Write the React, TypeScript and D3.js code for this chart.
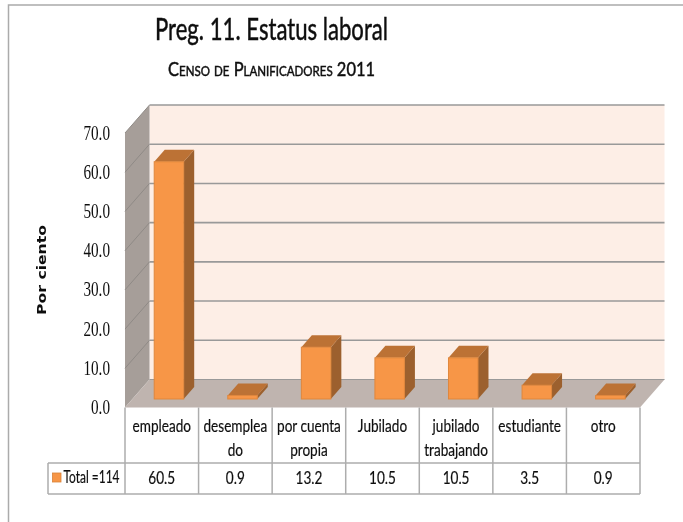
import React from "react";
import * as d3 from "d3";

const categories = ["empleado", "desemplea|do", "por cuenta|propia", "Jubilado", "jubilado|trabajando", "estudiante", "otro"];
const values = [60.5, 0.9, 13.2, 10.5, 10.5, 3.5, 0.9];
const valueLabels = ["60.5", "0.9", "13.2", "10.5", "10.5", "3.5", "0.9"];
const ticks = [0, 10, 20, 30, 40, 50, 60, 70];
const seriesName = "Total =114";
const yAxisTitle = "Por ciento";

const W = 683, H = 522;
const x0 = 125, x1 = 640, floorY = 407.5;
const dx = 24.5, dy = 28;
const barDx = 10.5, barDy = 12;
const SANS = "Lato,'Open Sans',sans-serif";

export default function App() {
  const x = d3.scaleBand<number>().domain(d3.range(categories.length)).range([x0, x1]);
  const y = d3.scaleLinear().domain([0, 70]).range([floorY, floorY - 274.5]);
  const pts = (a: number[][]) => a.map(p => p.join(",")).join(" ");
  const top = y(70);
  const tableMid = 463, tableBottom = 494;
  const tableLine = "#adadad";

  return (
    <svg width={W} height={H} style={{ position: "fixed", left: 0, top: 0, background: "#fff" }}>
      <defs>
        <filter id="soft" x="-5%" y="-5%" width="110%" height="110%">
          <feGaussianBlur stdDeviation="0.35" />
        </filter>
      </defs>
      <g filter="url(#soft)">
        {/* frame */}
        <path d={`M8.5 ${H}V5H${W}`} fill="none" stroke="#ababab" strokeWidth={1.5} />

        {/* walls */}
        <rect x={x0 + dx} y={top - dy} width={x1 - x0} height={floorY - top} fill="#FDEEE6" />
        <polygon points={pts([[x0, top], [x0 + dx, top - dy], [x0 + dx, floorY - dy], [x0, floorY]])} fill="#A69E99" />
        <polygon points={pts([[x0, floorY], [x0 + dx, floorY - dy], [x1 + dx, floorY - dy], [x1, floorY]])} fill="#BFB4AF" />

        {/* gridlines */}
        {ticks.map(t => (
          <g key={t}>
            {t > 0 && <line x1={x0} y1={y(t)} x2={x0 + dx} y2={y(t) - dy} stroke="#8f8a86" strokeWidth={1} />}
            <line x1={x0 + dx} y1={y(t) - dy} x2={x1 + dx} y2={y(t) - dy} stroke="#999" strokeWidth={t === 0 ? 1 : 1.6} />
          </g>
        ))}

        {/* bars */}
        {values.map((v, i) => {
          const bx = (x(i) as number) + 29.2;
          const bw = 29.5;
          const base = y(0) - 8.5;
          const h = y(0) - y(v);
          const t = base - h;
          return (
            <g key={i}>
              <polygon points={pts([[bx + bw, t], [bx + bw + barDx, t - barDy], [bx + bw + barDx, base - barDy], [bx + bw, base]])} fill="#9C612E" />
              <polygon points={pts([[bx, t], [bx + barDx, t - barDy], [bx + bw + barDx, t - barDy], [bx + bw, t]])} fill="#BC7236" />
              <rect x={bx} y={t} width={bw} height={h} fill="#F79646" stroke="#E0873C" strokeWidth={1} />
            </g>
          );
        })}

        {/* y ticks */}
        {ticks.map(t => (
          <text key={t} transform={`translate(110,${y(t) + 6.5}) scale(0.76,1)`} textAnchor="end"
            fontFamily="'Liberation Serif',serif" fontSize={20} fill="#111">
            {t.toFixed(1)}
          </text>
        ))}
        <text transform="translate(46,270) rotate(-90)" textAnchor="middle" fontFamily="'DejaVu Sans',sans-serif"
          fontWeight="bold" fontSize={12} textLength={90} lengthAdjust="spacingAndGlyphs" fill="#111">{yAxisTitle}</text>

        {/* titles */}
        <text x={155} y={39.5} fontFamily={SANS} fontSize={31} textLength={233} lengthAdjust="spacingAndGlyphs"
          fill="#111" stroke="#111" strokeWidth={0.5}>
          Preg. 11. Estatus laboral
        </text>
        <text x={168} y={76} fontFamily={SANS} fontSize={20} textLength={207} lengthAdjust="spacingAndGlyphs"
          fill="#111" stroke="#111" strokeWidth={0.5} style={{ fontVariant: "small-caps" }}>
          Censo de Planificadores 2011
        </text>

        {/* data table */}
        <g stroke={tableLine} strokeWidth={1.5} fill="none">
          <line x1={48} y1={tableMid} x2={x1} y2={tableMid} />
          <line x1={48} y1={tableBottom} x2={x1} y2={tableBottom} />
          <line x1={48} y1={tableMid} x2={48} y2={tableBottom} />
          {d3.range(categories.length + 1).map(i => {
            const lx = i === categories.length ? x1 : (x(i) as number);
            return <line key={i} x1={lx} y1={floorY} x2={lx} y2={tableBottom} />;
          })}
        </g>
        <rect x={52.5} y={473} width={8.5} height={9} fill="#F79646" stroke="#D9823A" strokeWidth={0.8} />
        <text x={63.5} y={482.5} fontFamily={SANS} fontSize={17} textLength={56} lengthAdjust="spacingAndGlyphs"
          fill="#111" stroke="#111" strokeWidth={0.2}>{seriesName}</text>
        {categories.map((c, i) => {
          const cx = (x(i) as number) + x.bandwidth() / 2;
          return (
            <g key={c} fill="#111" stroke="#111" strokeWidth={0.2} fontFamily={SANS} fontSize={17}>
              {c.split("|").map((line, j) => (
                <text key={j} transform={`translate(${cx},${432 + j * 24}) scale(0.8,1)`} textAnchor="middle">{line}</text>
              ))}
              <text transform={`translate(${cx},484) scale(0.8,1)`} textAnchor="middle">{valueLabels[i]}</text>
            </g>
          );
        })}
      </g>
    </svg>
  );
}
